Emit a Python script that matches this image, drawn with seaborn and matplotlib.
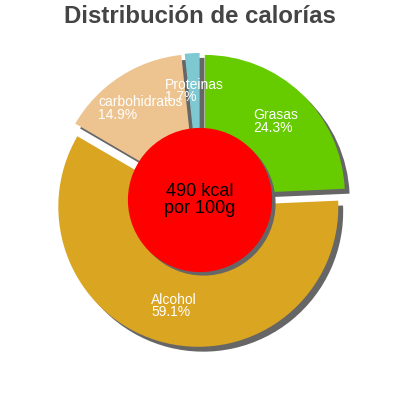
import matplotlib
matplotlib.use("Agg")
import matplotlib.pyplot as plt
import seaborn as sns
import numpy as np

categories = ["Grasas", "Alcohol", "carbohidratos", "Proteinas"]
values = [24.3, 59.1, 14.9, 1.7]
colors = ["#66cc00", "#daa520", "#edc48f", "#7ec8d2"]
title = "Distribución de calorías"
center_text = "490 kcal\npor 100g"

sns.set_theme(style="white")
plt.rcParams["font.family"] = ["Liberation Sans", "DejaVu Sans"]

fig = plt.figure(figsize=(4, 4), dpi=100)
ax = fig.add_axes([0, 0, 1, 1])
ax.set_facecolor("white")

lim = 200 / 140

wedges, _ = ax.pie(
    values,
    colors=colors,
    startangle=90,
    counterclock=False,
    explode=[0.05] * len(values),
    radius=1.0,
    shadow={"ox": 0.025, "oy": -0.025, "facecolor": "#666666",
            "edgecolor": "#666666", "alpha": 1.0},
    wedgeprops={"linewidth": 0},
    frame=True,
)
ax.set_xlim(-lim, lim)
ax.set_ylim(-lim, lim)
ax.set_aspect("equal")
ax.axis("off")

for w, cat, v in zip(wedges, categories, values):
    mid = np.deg2rad((w.theta1 + w.theta2) / 2)
    cx, cy = w.center
    r = 0.73
    ax.text(cx + r * np.cos(mid), cy + r * np.sin(mid), f"{cat}\n{v}%",
            ha="center", va="center", multialignment="left",
            color="white", fontsize=10, linespacing=0.9, zorder=5)

shadow_c = plt.Circle((0.025, -0.025), 0.51, color="#666666", zorder=3)
ax.add_patch(shadow_c)
circ = plt.Circle((0, 0), 0.51, color="#ff0000", zorder=4)
ax.add_patch(circ)
ax.text(0, 0, center_text, ha="center", va="center", fontsize=13,
        color="black", linespacing=1.0, zorder=6)

fig.text(0.5, 0.958, title, ha="center", va="center", fontsize=17.3,
         fontweight="bold", color="#444444")

fig.savefig("out.png", dpi=100, facecolor="white")
